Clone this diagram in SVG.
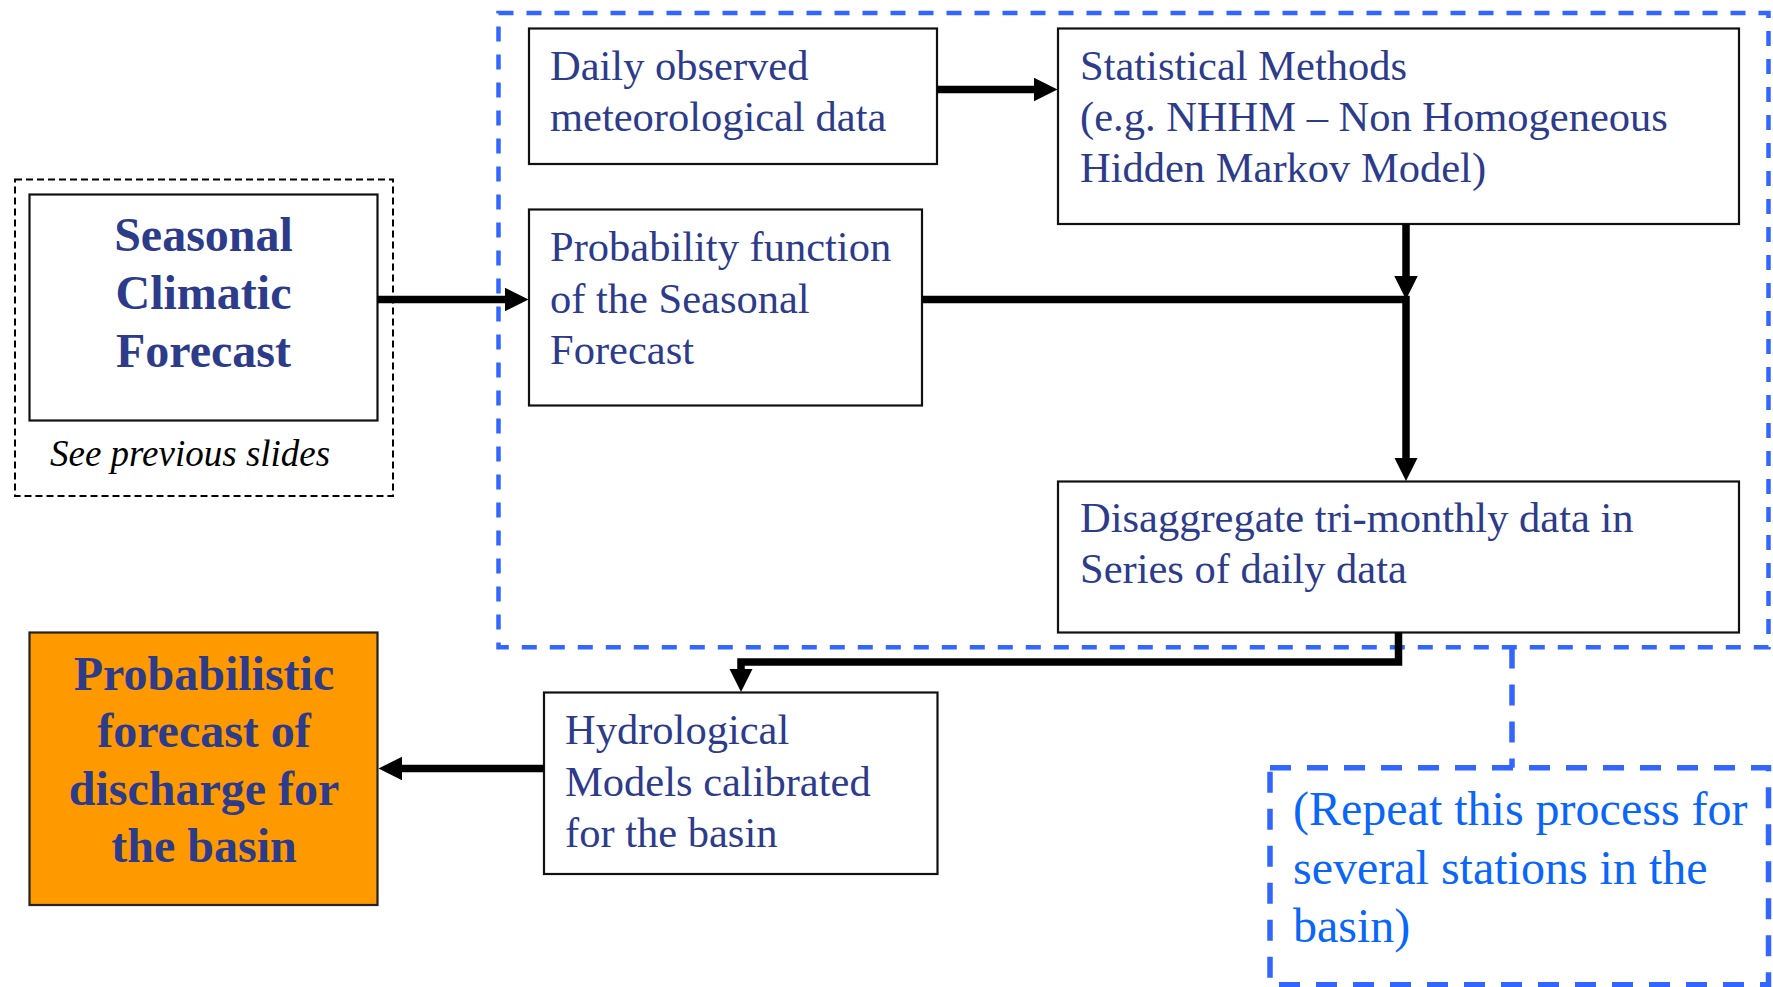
<svg xmlns="http://www.w3.org/2000/svg" width="1773" height="987" viewBox="0 0 1773 987">
<style>
.box{fill:#fff;stroke:#111;stroke-width:2.2}
.t{font-family:"Liberation Serif","Times New Roman",serif;font-size:42.5px;fill:#2D3B8B}
.tb{font-family:"Liberation Serif","Times New Roman",serif;font-size:48px;font-weight:bold;fill:#2D3B8B;text-anchor:middle}
.tr{font-family:"Liberation Serif","Times New Roman",serif;font-size:48px;fill:#0A66F8}
.conn{fill:none;stroke:#000;stroke-width:7.5}
.bdash{fill:none;stroke:#3366FF;stroke-width:4.5;stroke-dasharray:15 13}
.bdash2{fill:none;stroke:#3366FF;stroke-width:5.5;stroke-dasharray:21 16}
</style>
<defs>
<marker id="ah" markerUnits="userSpaceOnUse" markerWidth="24" markerHeight="24" refX="1" refY="11.75" orient="auto">
<path d="M0,0 L23.5,11.75 L0,23.5 z" fill="#000"/>
</marker>
</defs>
<rect width="1773" height="987" fill="#fff"/>

<g id="group-main">
<rect x="498.5" y="13" width="1270" height="634.3" class="bdash"/>
</g>

<g id="group-seasonal-outer">
<rect x="15" y="179.5" width="378" height="316.5" fill="none" stroke="#000" stroke-width="2" stroke-dasharray="7 4"/>
<text x="50" y="466" font-family="'Liberation Serif','Times New Roman',serif" font-size="37" font-style="italic" fill="#000">See previous slides</text>
</g>

<g id="node-seasonal">
<rect x="29.5" y="194.5" width="348" height="226" class="box"/>
<text class="tb" x="203.5" y="251">Seasonal</text>
<text class="tb" x="203.5" y="308.5">Climatic</text>
<text class="tb" x="203.5" y="366.5">Forecast</text>
</g>

<g id="node-daily">
<rect x="529" y="28.5" width="408" height="135.5" class="box"/>
<text class="t" x="550" y="80">Daily observed</text>
<text class="t" x="550" y="131">meteorological data</text>
</g>

<g id="node-statistical">
<rect x="1058" y="28.5" width="681" height="195.5" class="box"/>
<text class="t" x="1080" y="80">Statistical Methods</text>
<text class="t" x="1080" y="131">(e.g. NHHM – Non Homogeneous</text>
<text class="t" x="1080" y="182">Hidden Markov Model)</text>
</g>

<g id="node-probability">
<rect x="529" y="209.5" width="393" height="196" class="box"/>
<text class="t" x="550" y="261">Probability function</text>
<text class="t" x="550" y="312.5">of the Seasonal</text>
<text class="t" x="550" y="364">Forecast</text>
</g>

<g id="node-disaggregate">
<rect x="1058" y="481.5" width="681" height="151" class="box"/>
<text class="t" x="1080" y="531.5">Disaggregate tri-monthly data in</text>
<text class="t" x="1080" y="583">Series of daily data</text>
</g>

<g id="node-hydro">
<rect x="544" y="692.5" width="393.5" height="181.5" class="box"/>
<text class="t" x="565" y="744">Hydrological</text>
<text class="t" x="565" y="795.5">Models calibrated</text>
<text class="t" x="565" y="847">for the basin</text>
</g>

<g id="node-output">
<rect x="29.5" y="632.5" width="348" height="272.5" fill="#FF9900" stroke="#222" stroke-width="2.2"/>
<text class="tb" x="204" y="689.5">Probabilistic</text>
<text class="tb" x="204" y="747">forecast of</text>
<text class="tb" x="204" y="804.5">discharge for</text>
<text class="tb" x="204" y="862">the basin</text>
</g>

<g id="node-repeat">
<rect x="1270" y="767.7" width="498.5" height="217" class="bdash2"/>
<text class="tr" x="1293" y="825">(Repeat this process for</text>
<text class="tr" x="1293" y="884">several stations in the</text>
<text class="tr" x="1293" y="942">basin)</text>
</g>

<g id="connectors">
<path class="conn" d="M377.5,299.5 H506" marker-end="url(#ah)"/>
<path class="conn" d="M937,89.5 H1035" marker-end="url(#ah)"/>
<path class="conn" d="M1406,224 V277" marker-end="url(#ah)"/>
<path class="conn" d="M922,299.5 H1406 V458.5" marker-end="url(#ah)"/>
<path class="conn" d="M1398.5,632.5 V662 H741 V669.5" marker-end="url(#ah)"/>
<path class="conn" d="M544,768.5 H401" marker-end="url(#ah)"/>
<path class="bdash2" d="M1512,647.5 V767.7"/>
</g>
</svg>
